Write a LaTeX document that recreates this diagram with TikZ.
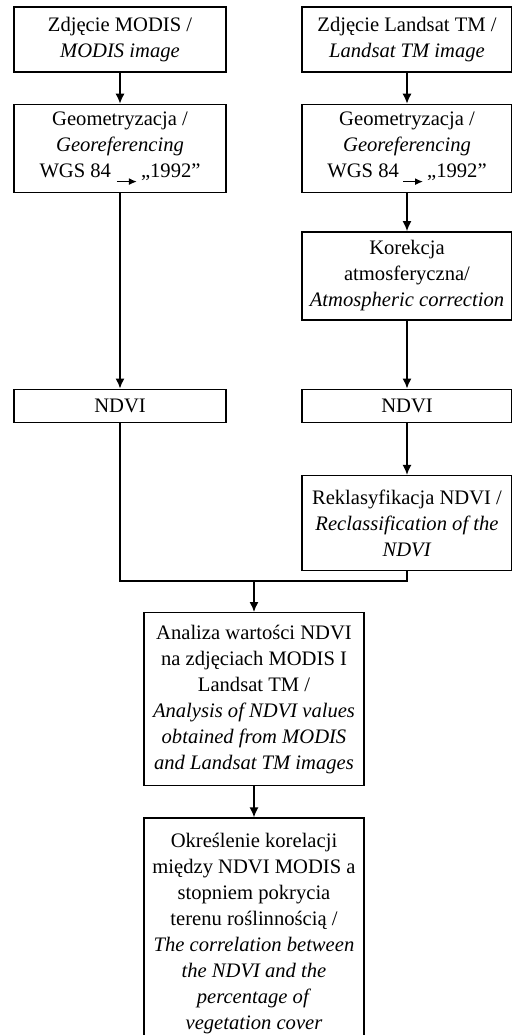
\documentclass[tikz,border=0pt]{standalone}
\usepackage{fontspec}
\setmainfont{Liberation Serif}
\usepackage{tikz}
\usetikzlibrary{arrows.meta,positioning}

\newcommand{\projarrow}{\tikz[baseline={(0,.45ex)}]\draw[-{Latex[length=4pt,width=3.5pt]}, line width=.7pt] (0,0) -- (10pt,0);}

\begin{document}
\begin{tikzpicture}[
  x=.5pt, y=-.5pt,
  >={Latex[length=5pt,width=4.5pt]},
  line width=.7pt,
  every node/.style={font=\fontsize{10.3}{13}\selectfont},
  box/.style={draw, line width=.7pt, align=center, inner sep=2pt},
  colL/.style={box, minimum width=106pt},
  colR/.style={box, minimum width=105pt},
  colM/.style={box, minimum width=110pt}
]
\useasboundingbox (0,0) rectangle (512,1035);

\node[colL, minimum height=32.5pt] (modis) at (120,39.5) {Zdjęcie MODIS /\\\textit{MODIS image}};
\node[colR, minimum height=32.5pt] (landsat) at (407,39.5) {Zdjęcie Landsat TM /\\\textit{Landsat TM image}};
\node[colL, minimum height=44pt, below=15.5pt of modis] (geoL) {Geometryzacja /\\\textit{Georeferencing}\\WGS 84 \projarrow\,„1992”};
\node[colR, minimum height=44pt, below=15.5pt of landsat] (geoR) {Geometryzacja /\\\textit{Georeferencing}\\WGS 84\,\projarrow\,„1992”};
\node[colR, minimum height=44pt, below=19pt of geoR] (atmo) {Korekcja\\atmosferyczna/\\\textit{Atmospheric correction}};
\node[colR, minimum height=16.5pt, below=34pt of atmo] (ndviR) {NDVI};
\node[colL, minimum height=16.5pt] (ndviL) at (geoL |- ndviR) {NDVI};
\node[colR, minimum height=47.5pt, below=26pt of ndviR] (reclass) {Reklasyfikacja NDVI /\\\textit{Reclassification of the}\\\textit{NDVI}};
\coordinate (join) at (254,581);
\node[colM, minimum height=86.5pt, below=15.5pt of join] (analysis) {Analiza wartości NDVI\\na zdjęciach MODIS I\\Landsat TM /\\\textit{Analysis of NDVI values}\\\textit{obtained from MODIS}\\\textit{and Landsat TM images}};
\node[colM, minimum height=115pt, below=15.5pt of analysis] (corr) {Określenie korelacji\\między NDVI MODIS a\\stopniem pokrycia\\terenu roślinnością /\\\textit{The correlation between}\\\textit{the NDVI and the}\\\textit{percentage of}\\\textit{vegetation cover}};

\draw[->] (modis) -- (geoL);
\draw[->] (landsat) -- (geoR);
\draw[->] (geoL) -- (ndviL);
\draw[->] (geoR) -- (atmo);
\draw[->] (atmo) -- (ndviR);
\draw[->] (ndviR) -- (reclass);
\draw (ndviL.south) |- (join) -| (reclass.south);
\draw[->] (join) -- (analysis);
\draw[->] (analysis) -- (corr);
\end{tikzpicture}
\end{document}
